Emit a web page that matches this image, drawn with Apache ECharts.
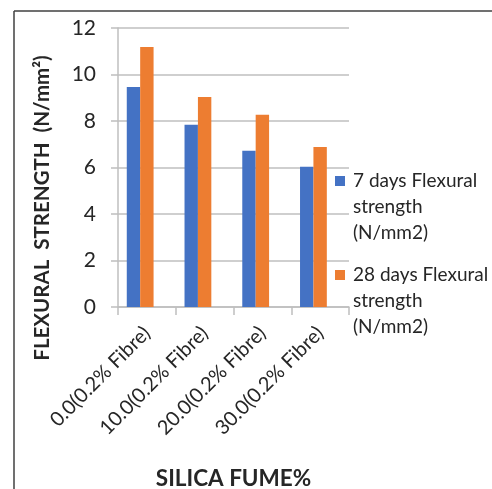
<!DOCTYPE html>
<html><head><meta charset="utf-8">
<script src="https://cdn.jsdelivr.net/npm/echarts@6/dist/echarts.min.js"></script>
<style>html,body{margin:0;padding:0;background:#fff}#c{width:492px;height:489px}</style>
</head><body><div id="c"></div>
<script>
const categories = ['0.0(0.2% Fibre)', '10.0(0.2% Fibre)', '20.0(0.2% Fibre)', '30.0(0.2% Fibre)'];
const days7 = [9.46, 7.84, 6.72, 6.03];
const days28 = [11.18, 9.03, 8.27, 6.88];
const yTicks = [0, 2, 4, 6, 8, 10, 12];
const seriesNames = ['7 days Flexural strength (N/mm2)', '28 days Flexural strength (N/mm2)'];
const legendLines = {
  '7 days Flexural strength (N/mm2)': ['7 days Flexural', 'strength', '(N/mm2)'],
  '28 days Flexural strength (N/mm2)': ['28 days Flexural', 'strength', '(N/mm2)']
};
const FONT = 'Lato';
const chart = echarts.init(document.getElementById('c'), null, {renderer: 'canvas'});
chart.setOption({
  animation: false,
  backgroundColor: '#fff',
  grid: {left: 118, right: 143, top: 28, bottom: 182, containLabel: false, outerBoundsMode: 'none'},
  legend: {
    data: seriesNames,
    orient: 'vertical',
    left: 325, top: 163,
    itemWidth: 0, itemHeight: 0, itemGap: 16,
    selectedMode: false,
    formatter: function (name) {
      const l = legendLines[name];
      const sq = name === seriesNames[0] ? 'sq1' : 'sq2';
      return '{' + sq + '|}{t|' + l[0] + '}\n{i|' + l[1] + '}\n{i|' + l[2] + '}';
    },
    textStyle: {
      fontFamily: FONT, fontSize: 19, color: '#262626', lineHeight: 26,
      rich: {
        sq1: {width: 10, height: 10, backgroundColor: '#4472C4', lineHeight: 26},
        sq2: {width: 10, height: 10, backgroundColor: '#ED7D31', lineHeight: 26},
        t: {fontFamily: FONT, fontSize: 19, color: '#262626', padding: [0, 0, 0, 8], lineHeight: 26},
        i: {fontFamily: FONT, fontSize: 19, color: '#262626', padding: [0, 0, 0, 18], lineHeight: 26}
      }
    }
  },
  xAxis: {
    type: 'category',
    data: categories,
    name: 'SILICA FUME%',
    nameLocation: 'middle',
    nameGap: 160,
    nameTextStyle: {fontFamily: FONT, fontSize: 22.5, fontWeight: 'bold', color: '#262626'},
    axisLine: {lineStyle: {color: '#bfbfbf', width: 1.5}},
    axisTick: {show: true, length: 8, lineStyle: {color: '#bfbfbf', width: 1.5}},
    axisLabel: {rotate: 45, margin: 23, fontFamily: FONT, fontSize: 20, color: '#262626'}
  },
  yAxis: {
    type: 'value',
    min: 0, max: 12, interval: 2,
    axisLine: {show: true, lineStyle: {color: '#bfbfbf', width: 1.5}},
    axisTick: {show: true, length: 7, lineStyle: {color: '#bfbfbf', width: 1.5}},
    splitLine: {lineStyle: {color: '#bfbfbf', width: 1.5}},
    axisLabel: {margin: 22, fontFamily: FONT, fontSize: 21, color: '#262626',
      formatter: function (v) { return yTicks.indexOf(v) >= 0 ? String(v) : ''; }}
  },
  series: [
    {name: seriesNames[0], type: 'bar', data: days7, barWidth: 13.4, barGap: '0%',
      itemStyle: {color: '#4472C4'}},
    {name: seriesNames[1], type: 'bar', data: days28, barWidth: 13.4, barGap: '0%',
      itemStyle: {color: '#ED7D31'}},
    {name: 'placeholder', type: 'bar', data: categories.map(() => '-'), barWidth: 13.4, barGap: '0%',
      itemStyle: {color: 'rgba(0,0,0,0)'}}
  ],
  graphic: [
    {type: 'line', shape: {x1: 14, y1: 11, x2: 492, y2: 11}, style: {stroke: '#404040', lineWidth: 1.5}},
    {type: 'line', shape: {x1: 14, y1: 11, x2: 14, y2: 489}, style: {stroke: '#404040', lineWidth: 1.5}},
    {type: 'text', x: 42, y: 208, rotation: Math.PI / 2,
      style: {text: 'FLEXURAL  STRENGTH  (N/mm²)', fontFamily: FONT, fontSize: 20.5, fontWeight: 'bold',
        fill: '#262626', align: 'center', verticalAlign: 'middle'}}
  ]
});
</script></body></html>
